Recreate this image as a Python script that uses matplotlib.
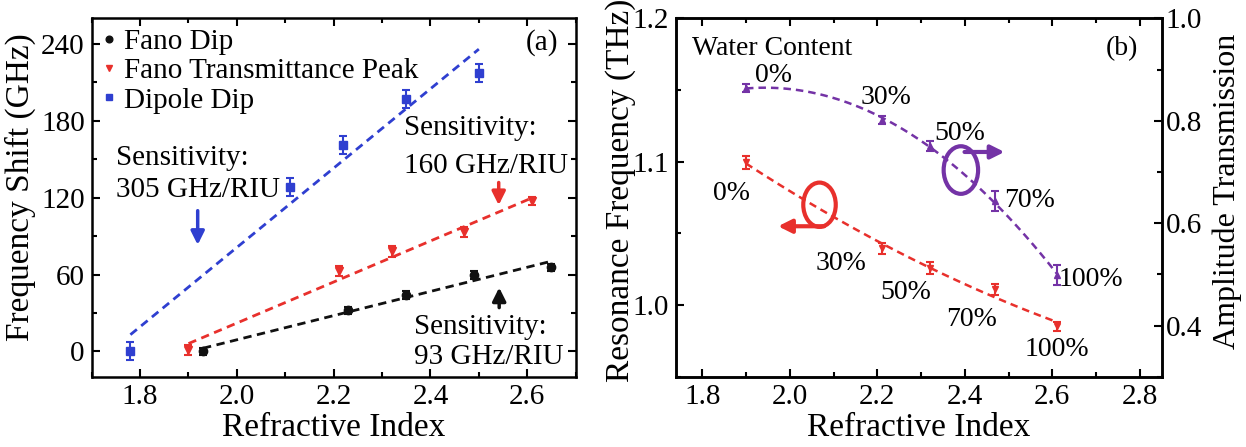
import matplotlib.pyplot as plt
import numpy as np
from matplotlib.patches import Ellipse
from matplotlib.ticker import MultipleLocator

plt.rcParams['font.family'] = ['Liberation Serif', 'DejaVu Serif']

# (a) frequency shift vs refractive index
n_fano_dip = [1.93, 2.23, 2.35, 2.49, 2.65]
shift_fano_dip = [0, 32, 44, 59.5, 65.5]
err_fano_dip = [3, 3, 3, 3, 3]

n_fano_peak = [1.90, 2.21, 2.32, 2.47, 2.61]
shift_fano_peak = [1, 63, 78, 93, 117.5]
err_fano_peak = [4, 4, 4, 4, 3]

n_dipole = [1.78, 2.11, 2.22, 2.35, 2.50]
shift_dipole = [0, 128, 161, 197, 217]
err_dipole = [7, 7, 7, 7, 7]

# (b) water content series
water_labels = ['0%', '30%', '50%', '70%', '100%']
n_water = [1.90, 2.21, 2.32, 2.47, 2.61]
res_freq = [1.0997, 1.0396, 1.0259, 1.011, 0.9853]
res_freq_err = [0.0045, 0.004, 0.004, 0.004, 0.003]
amp_trans = [0.864, 0.802, 0.750, 0.643, 0.499]
amp_trans_err = [0.008, 0.008, 0.01, 0.019, 0.019]

BLACK = '#111111'
RED = '#e8302c'
BLUE = '#2f3fd0'
PURPLE = '#7433a6'
FS = 21
LFS = 24
DASH = (0, (3, 2))


def style_axis(ax):
    for s in ax.spines.values():
        s.set_linewidth(1.8)
    ax.tick_params(which='both', direction='in', width=1.5, labelsize=FS, pad=5)
    ax.tick_params(which='major', length=6)
    ax.tick_params(which='minor', length=3.5)


fig = plt.figure(figsize=(12.46, 4.47), dpi=100)

# ---------------- panel (a) ----------------
ax1 = fig.add_axes([0.0736, 0.1566, 0.3884, 0.8024])
series = [
    (n_fano_dip, shift_fano_dip, err_fano_dip, BLACK, 'o', 'Fano Dip'),
    (n_fano_peak, shift_fano_peak, err_fano_peak, RED, 'v', 'Fano Transmittance Peak'),
    (n_dipole, shift_dipole, err_dipole, BLUE, 's', 'Dipole Dip'),
]
for x, y, e, c, m, lab in series:
    x = np.array(x)
    y = np.array(y)
    ax1.errorbar(x, y, yerr=e, fmt='none', ecolor=c, elinewidth=1.5, capsize=3, capthick=1.5)
    ax1.plot(x, y, m, color=c, ms=6, ls='none', label=lab)
    k, b = np.polyfit(x, y, 1)
    xx = np.array([x.min(), x.max()])
    ax1.plot(xx, k * xx + b, ls=DASH, color=c, lw=2)

ax1.set_xlim(1.7, 2.7)
ax1.set_ylim(-20, 260)
ax1.xaxis.set_minor_locator(MultipleLocator(0.1))
ax1.yaxis.set_major_locator(MultipleLocator(60))
ax1.yaxis.set_minor_locator(MultipleLocator(30))
ax1.set_xticks(np.arange(1.8, 2.61, 0.2))
style_axis(ax1)
ax1.tick_params(which='both', top=True, right=True)
ax1.set_xlabel('Refractive Index', fontsize=LFS, labelpad=2)
ax1.set_ylabel('Frequency Shift (GHz)', fontsize=LFS)
ax1.yaxis.set_label_coords(-0.115, 0.528)

ax1.legend(loc='upper left', bbox_to_anchor=(0.0, 1.0), frameon=False,
           fontsize=FS, handlelength=0.5, handletextpad=0.25, labelspacing=0.1,
           borderaxespad=0.0, borderpad=0.35, markerscale=0.8)

txt = dict(fontsize=FS, ha='left', va='center')
ax1.text(1.751, 151, 'Sensitivity:', **txt)
ax1.text(1.751, 126, '305 GHz/RIU', **txt)
ax1.text(2.345, 174.5, 'Sensitivity:', **txt)
ax1.text(2.345, 144.7, '160 GHz/RIU', **txt)
ax1.text(2.367, 19, 'Sensitivity:', **txt)
ax1.text(2.367, -4.5, '93 GHz/RIU', **txt)
ax1.text(2.63, 241, '(a)', fontsize=FS, ha='center', va='center')

arr = dict(arrowstyle='-|>', lw=2.5, mutation_scale=20)
ax1.annotate('', xy=(1.919, 81), xytext=(1.919, 112), arrowprops=dict(arr, color=BLUE))
ax1.annotate('', xy=(2.541, 112), xytext=(2.541, 134), arrowprops=dict(arr, color=RED))
ax1.annotate('', xy=(2.542, 52), xytext=(2.542, 32), arrowprops=dict(arr, color=BLACK))

# ---------------- panel (b) ----------------
ax2 = fig.add_axes([0.5425, 0.1570, 0.3899, 0.8020])
ax2r = ax2.twinx()

xw = np.array(n_water)
xx = np.linspace(xw.min(), xw.max(), 100)

ax2.errorbar(xw, res_freq, yerr=res_freq_err, fmt='v', color=RED, ms=5,
             elinewidth=1.5, capsize=3, capthick=1.5)
p_red = np.polyfit(xw, res_freq, 2)
ax2.plot(xx, np.polyval(p_red, xx), ls=DASH, color=RED, lw=1.8)

ax2r.errorbar(xw, amp_trans, yerr=amp_trans_err, fmt='^', color=PURPLE, ms=5,
              elinewidth=1.5, capsize=3, capthick=1.5)
p_pur = np.polyfit(xw, amp_trans, 2)
ax2r.plot(xx, np.polyval(p_pur, xx), ls=DASH, color=PURPLE, lw=1.8)

ax2.set_xlim(1.74, 2.85)
ax2.set_ylim(0.95, 1.2)
ax2r.set_ylim(0.3, 1.0)
ax2.set_xticks(np.arange(1.8, 2.81, 0.2))
ax2.xaxis.set_minor_locator(MultipleLocator(0.1))
ax2.set_yticks([1.0, 1.1, 1.2])
ax2.yaxis.set_minor_locator(MultipleLocator(0.05))
ax2r.set_yticks([0.4, 0.6, 0.8, 1.0])
ax2r.yaxis.set_minor_locator(MultipleLocator(0.1))
style_axis(ax2)
style_axis(ax2r)
ax2.tick_params(which='both', top=True, right=False)
ax2r.tick_params(which='both', pad=3)
ax2.set_xlabel('Refractive Index', fontsize=LFS, labelpad=2)
ax2.set_ylabel('Resonance Frequency (THz)', fontsize=LFS)
ax2.yaxis.set_label_coords(-0.082, 0.52)
ax2r.set_ylabel('Amplitude Transmission', fontsize=23)
ax2r.yaxis.set_label_coords(1.104, 0.518)

ax2.text(1.777, 1.179, 'Water Content', fontsize=20, ha='left', va='center')
ax2.text(2.759, 1.179, '(b)', fontsize=20, ha='center', va='center')

pur_pos = [(1.963, 1.160), (2.221, 1.145), (2.388, 1.120), (2.547, 1.073), (2.687, 1.018)]
red_pos = [(1.868, 1.078), (2.117, 1.029), (2.266, 1.009), (2.415, 0.990), (2.61, 0.969)]
for lab, (px, py) in zip(water_labels, pur_pos):
    ax2.text(px, py, lab, fontsize=20, ha='center', va='center')
for lab, (px, py) in zip(water_labels, red_pos):
    ax2.text(px, py, lab, fontsize=20, ha='center', va='center')

ax2.add_patch(Ellipse((2.068, 1.070), 0.0742, 0.0309, fill=False, ec=RED, lw=3, zorder=5))
ax2.annotate('', xy=(1.967, 1.055), xytext=(2.085, 1.055),
             arrowprops=dict(arrowstyle='-|>', lw=3, mutation_scale=20, color=RED))
ax2.add_patch(Ellipse((2.391, 1.0942), 0.0787, 0.0332, fill=False, ec=PURPLE, lw=3, zorder=5))
ax2.annotate('', xy=(2.497, 1.1068), xytext=(2.393, 1.1068),
             arrowprops=dict(arrowstyle='-|>', lw=3, mutation_scale=20, color=PURPLE))

fig.savefig('out.png', dpi=100)
